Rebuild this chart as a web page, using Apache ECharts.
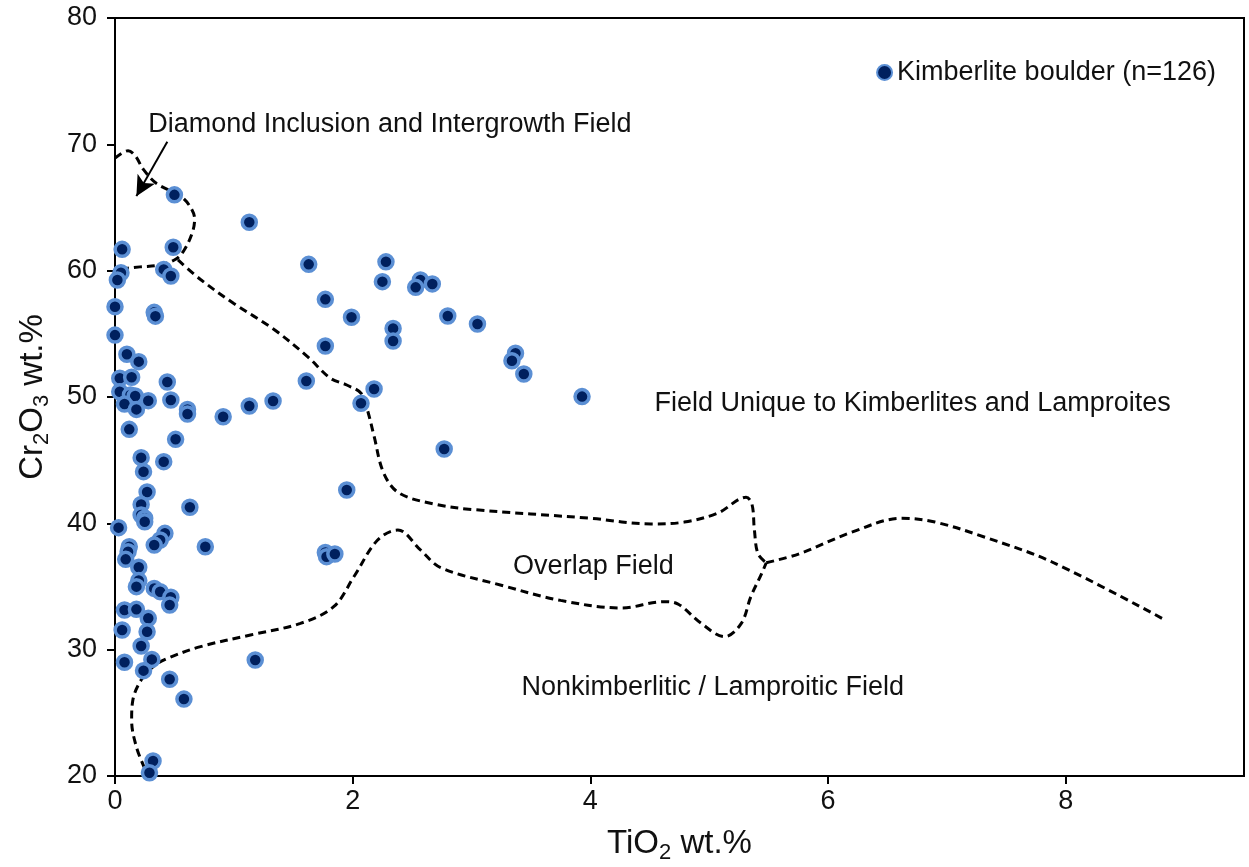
<!DOCTYPE html>
<html>
<head>
<meta charset="utf-8">
<title>Cr2O3 vs TiO2</title>
<script src="https://cdn.jsdelivr.net/npm/echarts@6/dist/echarts.min.js"></script>
<style>
  html, body { margin: 0; padding: 0; background: #fff; }
  #chart { width: 1249px; height: 867px; }
</style>
</head>
<body>
<div id="chart"></div>
<script>
// Garnet/chromite analyses: TiO2 wt.% (x) and Cr2O3 wt.% (y)
const tio2 = [
  0.50, 1.13, 0.06, 0.49, 0.05, 0.02, 0.41, 0.47, 1.63, 2.28,
  2.25, 0.00, 0.33, 0.34, 1.77, 1.99, 2.34, 2.34, 2.57, 2.67,
  2.53, 2.80, 3.05, 3.37, 3.34, 3.44, 3.93, 2.77, 2.18, 2.07,
  0.00, 1.77, 0.10, 0.20, 0.04, 0.14, 0.44, 1.61, 0.04, 0.13,
  0.17, 0.28, 0.47, 0.08, 0.18, 0.61, 0.61, 0.91, 1.13, 1.33,
  0.12, 0.51, 0.22, 0.41, 0.24, 0.27, 1.95, 0.22, 0.63, 0.22,
  0.25, 0.25, 0.03, 0.42, 0.38, 0.33, 0.76, 0.12, 0.11, 0.09,
  1.77, 1.78, 1.85, 0.20, 0.20, 0.18, 0.33, 0.38, 0.47, 0.46,
  0.08, 0.18, 0.28, 0.06, 0.27, 0.22, 0.08, 0.31, 1.18, 0.24,
  0.46, 0.58, 0.32, 0.29
];
const cr2o3 = [
  66.00, 63.83, 61.69, 61.85, 59.84, 59.26, 60.10, 59.58, 60.50, 60.70,
  59.13, 57.15, 56.70, 56.40, 57.73, 56.31, 55.43, 54.43, 59.26, 58.95,
  58.68, 56.41, 55.78, 53.46, 52.87, 51.82, 50.03, 45.88, 50.63, 49.50,
  54.90, 54.04, 53.38, 52.80, 51.48, 51.56, 51.19, 51.27, 50.42, 50.16,
  50.08, 49.71, 49.76, 49.44, 49.02, 49.02, 48.65, 48.44, 49.29, 49.68,
  47.44, 46.65, 45.20, 44.88, 44.09, 42.48, 42.64, 41.50, 41.27, 40.66,
  40.40, 40.13, 39.66, 39.21, 38.68, 38.28, 38.15, 38.15, 37.76, 37.15,
  37.70, 37.36, 37.57, 36.52, 35.47, 34.99, 34.85, 34.59, 34.15, 33.53,
  33.14, 33.19, 32.48, 31.56, 31.42, 30.29, 29.00, 29.23, 29.18, 28.34,
  27.66, 26.09, 21.19, 20.26
];

// Field boundaries (TiO2, Cr2O3)
const diamondField = [
  [0.00, 68.9], [0.11, 69.5], [0.17, 69.1], [0.24, 68.0], [0.35, 66.9],
  [0.55, 65.9], [0.63, 65.1], [0.67, 64.1], [0.65, 63.0], [0.58, 61.6],
  [0.51, 60.9], [0.38, 60.45], [0.21, 60.3], [0.11, 60.2], [0.03, 60.1]
];
const kimberliteBoundary = [
  [0.53, 60.85], [0.72, 59.3], [1.00, 57.4], [1.33, 55.4], [1.62, 53.2],
  [1.81, 51.5], [1.95, 50.95], [2.07, 50.3], [2.12, 49.1], [2.18, 46.9],
  [2.26, 44.0], [2.39, 42.4], [2.70, 41.5], [3.00, 41.1], [4.00, 40.4],
  [4.51, 39.95], [4.79, 40.1], [5.07, 40.8], [5.31, 42.06], [5.36, 41.5],
  [5.38, 39.5], [5.41, 37.6], [5.48, 36.88]
];
const rightBoundary = [
  [5.48, 36.88], [5.76, 37.6], [6.20, 39.3], [6.62, 40.4], [6.90, 40.1],
  [7.32, 38.9], [7.88, 36.96], [8.81, 32.48]
];
const overlapLower = [
  [0.25, 20.6], [0.18, 22.3], [0.14, 24.4], [0.15, 26.0], [0.22, 27.6],
  [0.32, 28.65], [0.44, 29.3], [0.72, 30.24], [1.14, 31.16], [1.56, 32.08],
  [1.84, 33.4], [2.01, 35.77], [2.21, 38.68], [2.38, 39.47], [2.57, 37.9],
  [2.74, 36.5], [3.25, 35.1], [3.75, 33.9], [4.26, 33.3], [4.62, 33.8],
  [4.74, 33.6], [4.93, 32.1], [5.13, 31.03], [5.27, 32.08], [5.35, 34.19],
  [5.44, 36.0], [5.48, 36.88]
];

// Field labels, anchored at their left edge
const fieldLabels = [
  { value: [0.28, 71.6], name: 'Diamond Inclusion and Intergrowth Field' },
  { value: [4.54, 49.5], name: 'Field Unique to Kimberlites and Lamproites' },
  { value: [3.35, 36.6], name: 'Overlap Field' },
  { value: [3.42, 27.0], name: 'Nonkimberlitic / Lamproitic Field' }
];
const arrowFrom = [0.44, 70.2];
const arrowTo = [0.18, 65.9];

const xTicks = [0, 2, 4, 6, 8];
const yTicks = [20, 30, 40, 50, 60, 70, 80];

const FONT = '"Liberation Sans", Arial, sans-serif';
const points = tio2.map((x, i) => [x, cr2o3[i]]);

function dashed(data) {
  return {
    type: 'line',
    data: data,
    smooth: 0.35,
    symbol: 'none',
    silent: true,
    lineStyle: { color: '#000', width: 3, type: [8, 5] },
    z: 2
  };
}

const titleRich = {
  n: { fontSize: 33, color: '#111', fontFamily: FONT, lineHeight: 40 },
  s: { fontSize: 22, color: '#111', fontFamily: FONT, verticalAlign: 'bottom', lineHeight: 22 }
};

const chart = echarts.init(document.getElementById('chart'));
chart.setOption({
  animation: false,
  backgroundColor: '#fff',
  textStyle: { fontFamily: FONT },
  grid: {
    left: 115, top: 18, right: 5, bottom: 91,
    outerBoundsMode: 'none', containLabel: false,
    show: true, borderColor: '#000', borderWidth: 2
  },
  legend: {
    data: ['Kimberlite boulder (n=126)'],
    right: 33, top: 59, padding: 0,
    icon: 'circle', itemWidth: 15, itemHeight: 15, itemGap: 5,
    textStyle: { fontSize: 27, color: '#111', fontFamily: FONT }
  },
  xAxis: {
    type: 'value', min: 0, max: 9.5,
    name: '{n|TiO}{s|2}{n| wt.%}',
    nameLocation: 'middle', nameGap: 48,
    nameTextStyle: { rich: titleRich },
    splitLine: { show: false },
    axisLine: { lineStyle: { color: '#000', width: 2 } },
    axisTick: { customValues: xTicks, length: 8, lineStyle: { color: '#000', width: 2 } },
    axisLabel: { customValues: xTicks, fontSize: 27, color: '#111', margin: 12, fontFamily: FONT }
  },
  yAxis: {
    type: 'value', min: 20, max: 80,
    name: '{n|Cr}{s|2}{n|O}{s|3}{n| wt.%}',
    nameLocation: 'middle', nameGap: 62,
    nameTextStyle: { rich: titleRich },
    splitLine: { show: false },
    axisLine: { lineStyle: { color: '#000', width: 2 } },
    axisTick: { customValues: yTicks, length: 8, lineStyle: { color: '#000', width: 2 } },
    axisLabel: { customValues: yTicks, fontSize: 27, color: '#111', margin: 18, fontFamily: FONT }
  },
  series: [
    dashed(diamondField),
    dashed(kimberliteBoundary),
    dashed(rightBoundary),
    dashed(overlapLower),
    {
      name: 'Kimberlite boulder (n=126)',
      type: 'scatter',
      data: points,
      symbol: 'circle',
      symbolSize: 14,
      itemStyle: { color: '#00205e', borderColor: '#5b8fd4', borderWidth: 3.5, opacity: 1 },
      z: 5
    },
    {
      type: 'scatter',
      data: fieldLabels,
      symbolSize: 0,
      silent: true,
      itemStyle: { opacity: 1 },
      label: {
        show: true, position: 'right', distance: 0, opacity: 1,
        formatter: '{b}', fontSize: 27, color: '#111', fontFamily: FONT
      },
      markLine: {
        silent: true,
        symbol: ['none', 'arrow'],
        symbolSize: [15, 20],
        label: { show: false },
        lineStyle: { color: '#000', width: 2, type: 'solid', opacity: 1 },
        data: [[{ coord: arrowFrom }, { coord: arrowTo }]]
      },
      z: 6
    }
  ]
});
</script>
</body>
</html>
